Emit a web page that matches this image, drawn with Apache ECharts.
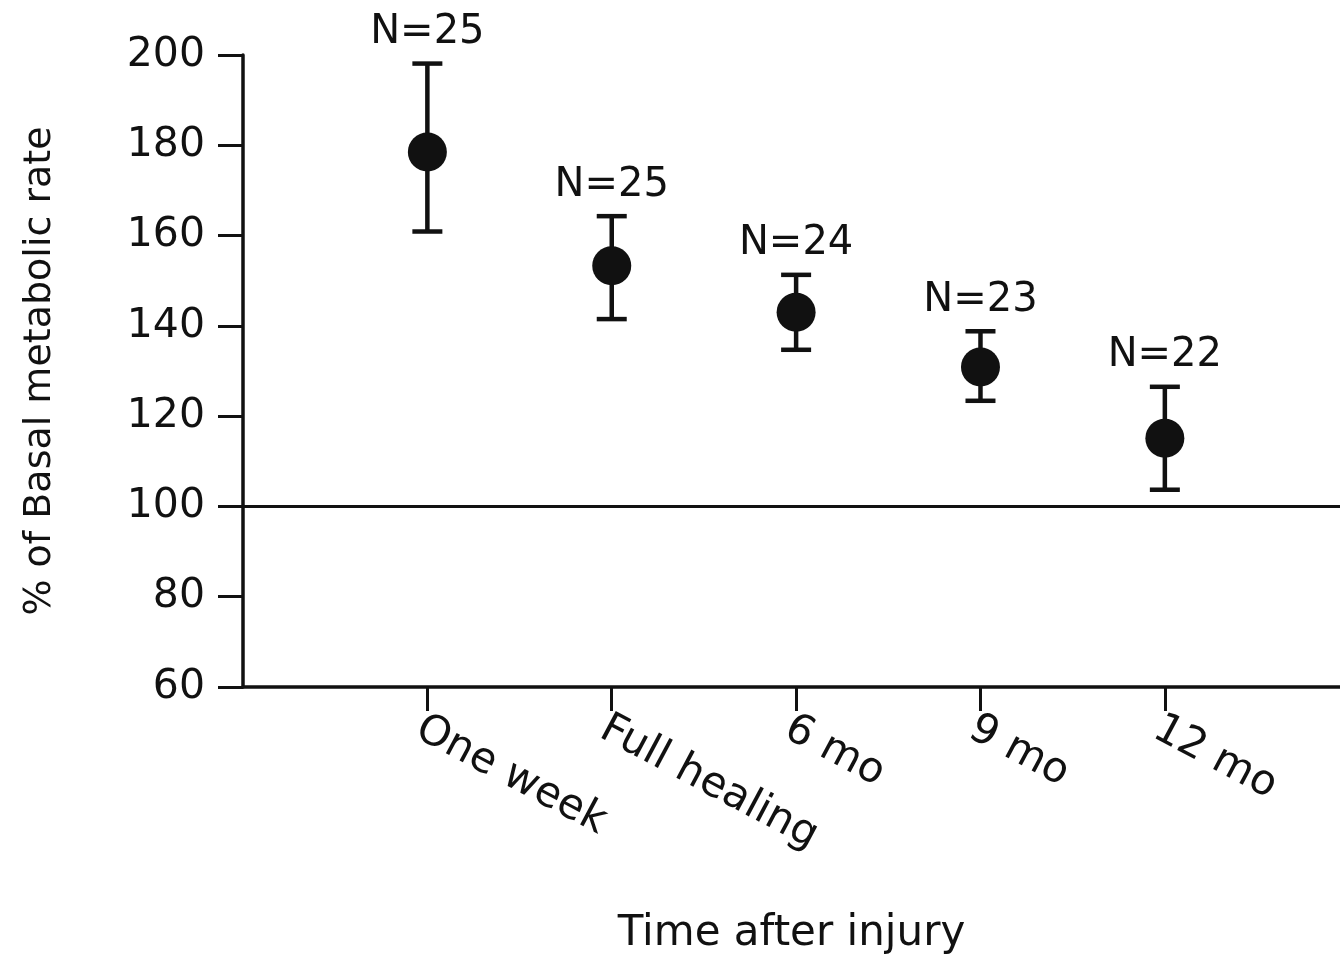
<!DOCTYPE html>
<html>
<head>
<meta charset="utf-8">
<script src="https://cdn.jsdelivr.net/npm/echarts@6/dist/echarts.min.js"></script>
<style>
html,body{margin:0;padding:0;background:#fff;}
#chart{width:1340px;height:954px;}
</style>
</head>
<body>
<div id="chart"></div>
<script>
const categories = ['One week', 'Full healing', '6 mo', '9 mo', '12 mo'];
const xPositions = [1, 2, 3, 4, 5];
const means = [178.5, 153.3, 143.0, 130.9, 115.1];
const upper = [198.1, 164.3, 151.3, 138.8, 126.5];
const lower = [160.9, 141.5, 134.7, 123.4, 103.7];
const nLabels = ['N=25', 'N=25', 'N=24', 'N=23', 'N=22'];
const yTicks = [60, 80, 100, 120, 140, 160, 180, 200];
const referenceValue = 100;

const FONT = 'DejaVu Sans';
const chart = echarts.init(document.getElementById('chart'), null, {renderer: 'canvas'});

const errData = xPositions.map((x, i) => [x, lower[i], upper[i], i]);

const option = {
  backgroundColor: '#ffffff',
  animation: false,
  grid: {left: 243, right: 0, top: 55, bottom: 267, containLabel: false, outerBoundsMode: 'none'},
  xAxis: {
    type: 'value',
    min: 0,
    max: 5.95,
    interval: 1,
    splitLine: {show: false},
    axisLine: {show: true, onZero: false, lineStyle: {color: '#111', width: 3.5}},
    axisTick: {show: true, length: 24, lineStyle: {color: '#111', width: 3}, customValues: xPositions},
    axisLabel: {
      show: true,
      customValues: xPositions,
      rotate: -28,
      margin: 44,
      fontFamily: FONT,
      fontSize: 42,
      color: '#111',
      padding: [0, 0, 0, -10],
      formatter: v => categories[xPositions.indexOf(Math.round(v))] || ''
    },
    name: 'Time after injury',
    nameLocation: 'middle',
    nameGap: 226,
    nameTextStyle: {fontFamily: FONT, fontSize: 42, color: '#111'}
  },
  yAxis: {
    type: 'value',
    min: 60,
    max: 200,
    interval: 20,
    splitLine: {show: false},
    axisLine: {show: true, lineStyle: {color: '#111', width: 3.5}},
    axisTick: {show: true, length: 25, lineStyle: {color: '#111', width: 3}},
    axisLabel: {margin: 38, fontFamily: FONT, fontSize: 41, color: '#111',
      formatter: v => (yTicks.indexOf(v) >= 0 ? String(v) : '')},
    name: '% of Basal metabolic rate',
    nameLocation: 'middle',
    nameRotate: 90,
    nameGap: 184,
    nameTextStyle: {fontFamily: FONT, fontSize: 38, color: '#111'}
  },
  series: [
    {
      type: 'custom',
      data: errData,
      z: 3,
      renderItem: function (params, api) {
        const x = api.value(0);
        const lo = api.coord([x, api.value(1)]);
        const hi = api.coord([x, api.value(2)]);
        const half = 15;
        const idx = api.value(3);
        return {
          type: 'group',
          children: [
            {type: 'line', shape: {x1: lo[0], y1: lo[1], x2: hi[0], y2: hi[1]}, style: {stroke: '#111', lineWidth: 4.5}},
            {type: 'line', shape: {x1: hi[0] - half, y1: hi[1], x2: hi[0] + half, y2: hi[1]}, style: {stroke: '#111', lineWidth: 4.5}},
            {type: 'line', shape: {x1: lo[0] - half, y1: lo[1], x2: lo[0] + half, y2: lo[1]}, style: {stroke: '#111', lineWidth: 4.5}},
            {type: 'text', x: hi[0], y: hi[1] - 11,
              style: {text: nLabels[idx], fill: '#111', font: '40px "DejaVu Sans"', align: 'center', verticalAlign: 'bottom'}}
          ]
        };
      }
    },
    {
      type: 'scatter',
      data: xPositions.map((x, i) => [x, means[i]]),
      symbol: 'circle',
      symbolSize: 39,
      z: 4,
      itemStyle: {color: '#111', opacity: 1},
      markLine: {
        silent: true,
        symbol: ['none', 'none'],
        label: {show: false},
        lineStyle: {color: '#111', width: 3, type: 'solid'},
        data: [{yAxis: referenceValue}]
      }
    }
  ]
};
chart.setOption(option);
</script>
</body>
</html>
